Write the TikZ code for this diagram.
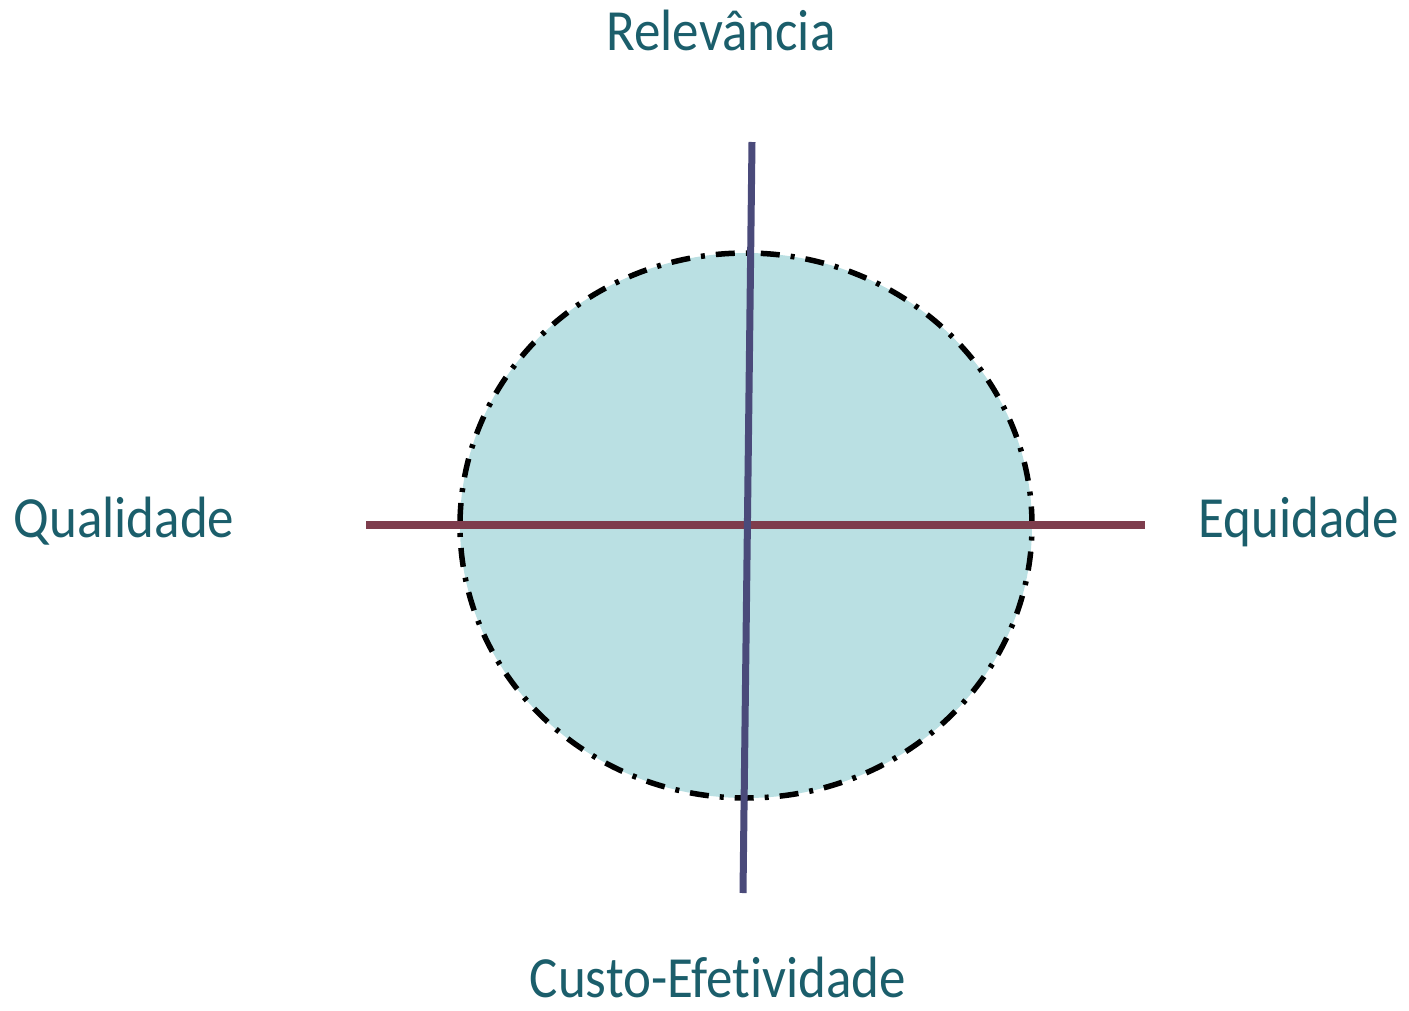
\documentclass[tikz,border=0pt]{standalone}
\usepackage{fontspec}
\setmainfont[Ligatures=NoCommon]{Carlito}
\usetikzlibrary{shapes.geometric}
\definecolor{txtc}{HTML}{1B5E6B}
\definecolor{fillc}{HTML}{BAE0E3}
\definecolor{vlinec}{HTML}{4A4A7A}
\definecolor{hlinec}{HTML}{7E3D4D}
\tikzset{
  lbl/.style={anchor=base, text=txtc, inner sep=0pt, font=\fontsize{53}{60}\selectfont},
  circ/.style={ellipse, draw=black, fill=fillc, line width=5.5pt, dash pattern=on 19pt off 11pt on 4pt off 11pt, minimum width=572pt, minimum height=545pt, inner sep=0pt},
  vline/.style={draw=vlinec, line width=7pt},
  hline/.style={draw=hlinec, line width=8pt}
}
\begin{document}
\begin{tikzpicture}[x=1pt,y=-1pt]
\useasboundingbox (0,0) rectangle (1409,1010);
\node[circ] (c) at (746,525.5) {};
\coordinate (vt) at (752,142);
\coordinate (vb) at (743,893);
\coordinate (hl) at (366,525);
\coordinate (hr) at (1145,525);
\draw[hline] (hl) -- (hr);
\draw[vline] (vt) -- (vb);
\node[lbl] (rel) at (721,50) {\scalebox{1}[1.1]{Relevância}};
\node[lbl] (qual) at (124,537) {\scalebox{1}[1.1]{Qualidade}};
\node[lbl] (equi) at (1299,537) {\scalebox{1}[1.1]{Equidade}};
\node[lbl] (custo) at (718,997) {\scalebox{1}[1.1]{Custo-Efetividade}};
\end{tikzpicture}
\end{document}
